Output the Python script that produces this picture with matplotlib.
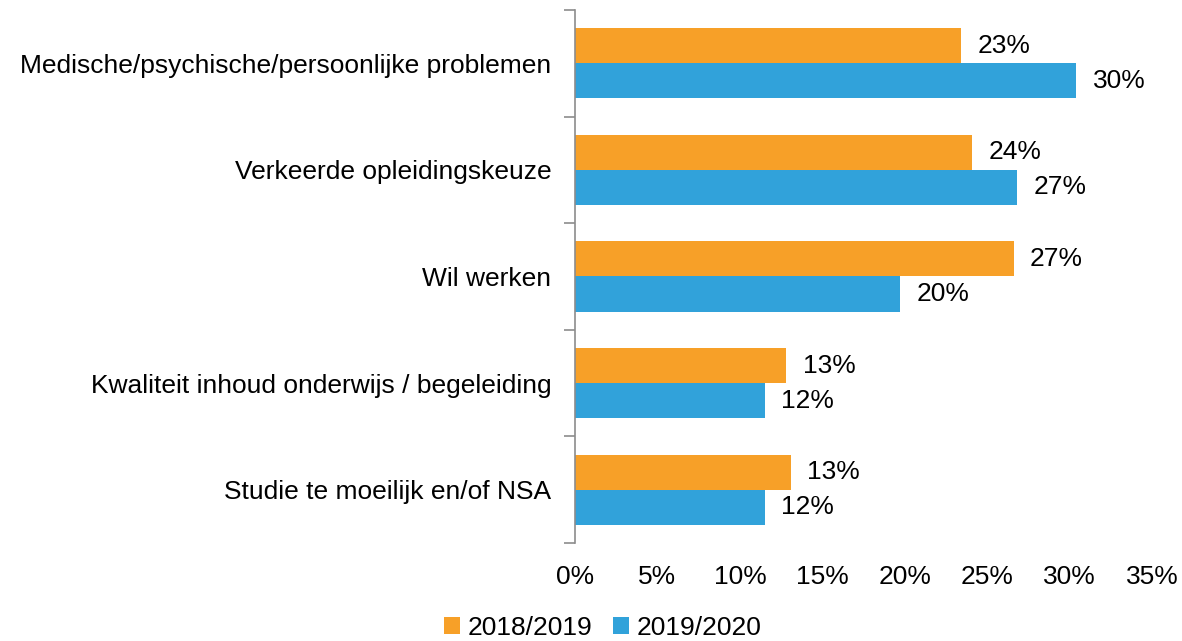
import matplotlib.pyplot as plt
import numpy as np

categories = ['Medische/psychische/persoonlijke problemen',
              'Verkeerde opleidingskeuze',
              'Wil werken',
              'Kwaliteit inhoud onderwijs / begeleiding',
              'Studie te moeilijk en/of NSA']
y2018 = [23.4, 24.1, 26.6, 12.8, 13.1]
y2019 = [30.4, 26.8, 19.7, 11.5, 11.5]
labels2018 = ['23%', '24%', '27%', '13%', '13%']
labels2019 = ['30%', '27%', '20%', '12%', '12%']

plt.rcParams['font.family'] = ['Liberation Sans', 'DejaVu Sans']
fs = 19

fig = plt.figure(figsize=(11.82, 6.41), dpi=100)
ax = fig.add_axes([0.4865, 0.1529, 0.4881, 0.8315])

orange = '#F7A028'
blue = '#31A2DA'
h = 0.33
pos = np.arange(len(categories))

b1 = ax.barh(pos - h/2, y2018, height=h, color=orange, label='2018/2019')
b2 = ax.barh(pos + h/2, y2019, height=h, color=blue, label='2019/2020')

for i in range(len(categories)):
    ax.text(y2018[i] + 1.0, pos[i] - h/2, labels2018[i], va='center', ha='left', fontsize=fs)
    ax.text(y2019[i] + 1.0, pos[i] + h/2, labels2019[i], va='center', ha='left', fontsize=fs)

ax.set_xlim(0, 35)
ax.set_ylim(len(categories) - 0.5, -0.5)
ax.set_xticks(np.arange(0, 36, 5))
ax.set_xticklabels([f'{v}%' for v in range(0, 36, 5)], fontsize=fs)
ax.tick_params(axis='x', length=0, pad=16)

ax.set_yticks(pos)
ax.set_yticklabels(categories, fontsize=fs)
ax.tick_params(axis='y', which='major', length=0, pad=17)
ax.set_yticks(np.arange(-0.5, len(categories), 1), minor=True)
ax.tick_params(axis='y', which='minor', length=8, color='#8c8c8c', width=1.2)

for s in ['top', 'right', 'bottom']:
    ax.spines[s].set_visible(False)
ax.spines['left'].set_color('#8c8c8c')
ax.spines['left'].set_linewidth(1.2)

fig.legend(handles=[b1, b2], loc='lower center', ncol=2, frameon=False, fontsize=fs,
           bbox_to_anchor=(0.51, -0.035), handlelength=0.6, handleheight=0.6,
           handletextpad=0.3, columnspacing=0.8)

fig.savefig('out.png', dpi=100)
